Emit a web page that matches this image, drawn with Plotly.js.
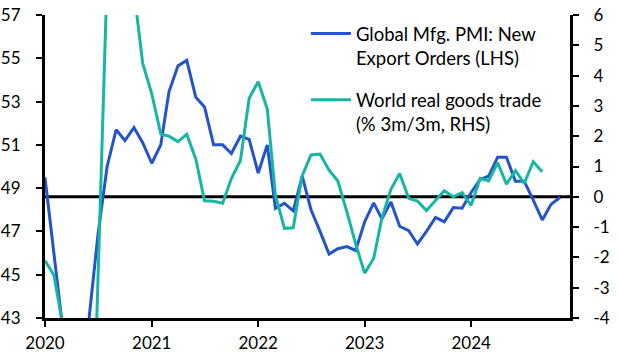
<!DOCTYPE html>
<html>
<head>
<meta charset="utf-8">
<script src="https://cdn.plot.ly/plotly-3.0.1.min.js"></script>
<style>html,body{margin:0;padding:0;background:#fff;}#chart{width:618px;height:357px;}</style>
</head>
<body>
<div id="chart"></div>
<script>
// Monthly dates
var pmiDates = [];
var tradeDates = [];
(function(){
  for (var y = 2020; y <= 2024; y++) {
    for (var m = 1; m <= 12; m++) {
      var d = y + '-' + (m < 10 ? '0' + m : m) + '-01';
      if (y < 2024 || m <= 11) pmiDates.push(d);
      if (y < 2024 || m <= 9) tradeDates.push(d);
    }
  }
})();

// Global Mfg. PMI: New Export Orders (LHS)
var pmiValues = [
  49.5, 46.0, 42.6, 28.0, 33.5, 43.1, 46.9, 50.0, 51.7, 51.2, 51.8, 51.1,
  50.15, 51.0, 53.45, 54.65, 54.9, 53.2, 52.75, 51.0, 51.0, 50.6, 51.4, 51.25,
  49.7, 51.0, 48.07, 48.3, 47.95, 49.55, 48.0, 47.0, 45.95, 46.2, 46.3, 46.12,
  47.45, 48.32, 47.58, 48.36, 47.24, 47.03, 46.42, 47.0, 47.65, 47.45, 48.1, 48.07,
  48.8, 49.4, 49.55, 50.43, 50.43, 49.32, 49.32, 48.45, 47.53, 48.25, 48.58
];

// World real goods trade (% 3m/3m, RHS)
var tradeValues = [
  -2.1, -2.6, -4.2, -9.5, -12.5, -12.2, -2.2, 7.3, 9.5, 8.3, 6.8, 4.4,
  3.4, 2.07, 2.0, 1.82, 2.06, 1.25, -0.13, -0.15, -0.21, 0.6, 1.2, 3.25,
  3.8, 2.9, 0.05, -1.04, -1.02, 0.7, 1.38, 1.41, 0.88, 0.52, -0.5, -1.55,
  -2.52, -2.03, -0.7, 0.25, 0.77, -0.05, -0.14, -0.45, -0.12, 0.2, 0.0, 0.14,
  -0.28, 0.61, 0.52, 1.13, 0.42, 0.86, 0.44, 1.16, 0.83
];

var leftTicks = [43, 45, 47, 49, 51, 53, 55, 57];
var rightTicks = [-4, -3, -2, -1, 0, 1, 2, 3, 4, 5, 6];
var rightTickText = ['-4', '-3', '-2', '-1', '0', '1', '2', '3', '4', '5', '6'];
var xTickVals = ['2020-01-01', '2021-01-01', '2022-01-01', '2023-01-01', '2024-01-01'];
var xTickText = ['2020', '2021', '2022', '2023', '2024'];

var blue = '#2454cc';
var teal = '#17b5a3';
var fnt = {family: 'Lato, "Open Sans", sans-serif', size: 17, color: '#000'};
var legFnt = {family: 'Lato, "Open Sans", sans-serif', size: 18.5, color: '#000'};

var traces = [
  {x: pmiDates, y: pmiValues, type: 'scatter', mode: 'lines', name: 'Global Mfg. PMI: New<br>Export Orders (LHS)',
   legendgroup: 'a', line: {color: blue, width: 3}, yaxis: 'y', cliponaxis: true},
  {x: tradeDates, y: tradeValues, type: 'scatter', mode: 'lines', name: 'World real goods trade<br>(% 3m/3m, RHS)',
   legendgroup: 'b', line: {color: teal, width: 3}, yaxis: 'y2', cliponaxis: true}
];

var layout = {
  width: 618, height: 357,
  margin: {l: 45, r: 48, t: 15, b: 39, pad: 0},
  paper_bgcolor: '#fff', plot_bgcolor: '#fff',
  font: fnt,
  showlegend: true,
  legend: {x: 0.497, y: 1.0, xanchor: 'left', yanchor: 'top', bgcolor: 'rgba(0,0,0,0)',
           font: legFnt, valign: 'top', tracegroupgap: 15, itemwidth: 40},
  xaxis: {type: 'date', range: ['2020-01-01', '2024-12-05'], tickvals: xTickVals, ticktext: xTickText,
          showgrid: false, zeroline: false, showline: true, linecolor: '#000', linewidth: 3,
          ticks: 'outside', ticklen: 6, tickwidth: 2, tickcolor: '#000', ticklabelstandoff: 2,
          tickfont: fnt},
  yaxis: {range: [43, 57], tickvals: leftTicks, showgrid: false, zeroline: false, showline: true,
          linecolor: '#000', linewidth: 3, ticks: 'outside', ticklen: 6, tickwidth: 2, tickcolor: '#000',
          ticklabelstandoff: 12, tickfont: fnt},
  yaxis2: {range: [-4, 6], overlaying: 'y', side: 'right', tickvals: rightTicks, ticktext: rightTickText,
           showgrid: false, zeroline: false, showline: true, linecolor: '#000', linewidth: 3,
           ticks: 'outside', ticklen: 6, tickwidth: 2, tickcolor: '#000', ticklabelstandoff: 11, tickfont: fnt},
  shapes: [{type: 'line', xref: 'paper', x0: 0, x1: 1, yref: 'y2', y0: 0, y1: 0,
            line: {color: '#000', width: 3}, layer: 'below'}]
};

Plotly.newPlot('chart', traces, layout, {displayModeBar: false, staticPlot: true});
</script>
</body>
</html>
